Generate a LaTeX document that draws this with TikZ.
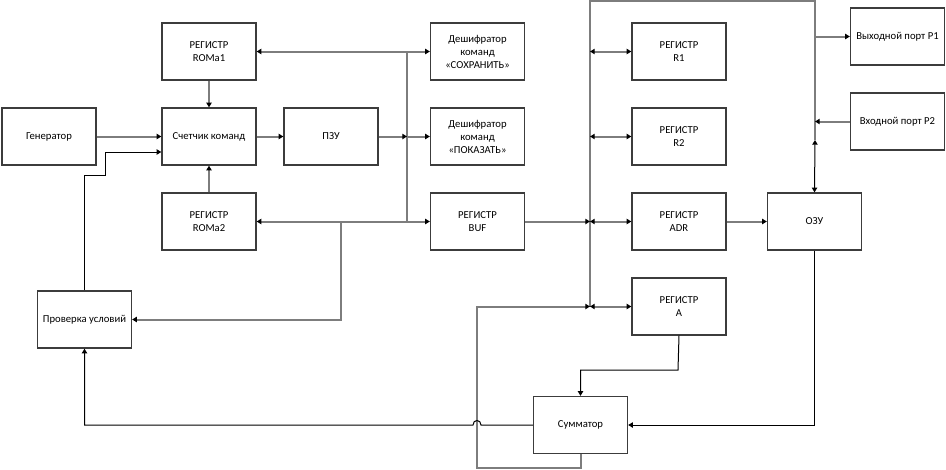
\documentclass[tikz,border=0pt]{standalone}
\usepackage{fontspec}
\setmainfont{Carlito}
\usetikzlibrary{arrows.meta}
\definecolor{busgray}{RGB}{125,125,125}
\definecolor{boxline}{RGB}{60,60,60}
\tikzset{
  blk/.style={draw=boxline, line width=1pt, fill=white, minimum width=70.5pt, minimum height=42.75pt, inner sep=1pt, align=center, font=\fontsize{8}{9.75}\selectfont},
  gline/.style={draw=busgray, line width=1.5pt},
  kline/.style={draw=black, line width=0.75pt},
  tip/.style={-{Triangle[length=3.5pt,width=4pt,color=black]}},
  dtip/.style={{Triangle[length=3.5pt,width=4pt,color=black]}-{Triangle[length=3.5pt,width=4pt,color=black]}}
}
\begin{document}
\begin{tikzpicture}[x=0.75pt,y=-0.75pt]
\useasboundingbox (0,0) rectangle (946,469);
% boxes
\node[blk] (gen) at (49,136.5) {Генератор};
\node[blk] (roma1) at (209,51.5) {РЕГИСТР\\ROMa1};
\node[blk] (cnt) at (209,136.5) {Счетчик команд};
\node[blk] (roma2) at (209,221.5) {РЕГИСТР\\ROMa2};
\node[blk] (pzu) at (331,136.5) {ПЗУ};
\node[blk] (dsave) at (477.5,51.5) {Дешифратор\\команд\\«СОХРАНИТЬ»};
\node[blk] (dshow) at (477.5,136.5) {Дешифратор\\команд\\«ПОКАЗАТЬ»};
\node[blk] (buf) at (477.5,221.5) {РЕГИСТР\\BUF};
\node[blk] (r1) at (679,51.5) {РЕГИСТР\\R1};
\node[blk] (r2) at (679,136.5) {РЕГИСТР\\R2};
\node[blk] (adr) at (679,221.5) {РЕГИСТР\\ADR};
\node[blk] (rega) at (679,306.5) {РЕГИСТР\\A};
\node[blk] (ozu) at (814.5,221.5) {ОЗУ};
\node[blk] (p1) at (897.5,36.5) {Выходной порт P1};
\node[blk] (p2) at (897.5,121.5) {Входной порт P2};
\node[blk] (sum) at (580.5,425) {Сумматор};
\node[blk] (chk) at (84.5,319.5) {Проверка условий};
% coordinates
\coordinate (b1t) at (407,51.5);
\coordinate (b1m) at (407,136.5);
\coordinate (b1b) at (407,221.5);
\coordinate (tap) at (341,221.5);
\coordinate (tapd) at (341,319.5);
\coordinate (b2top) at (590,1);
\coordinate (b2r1) at (590,51.5);
\coordinate (b2r2) at (590,136.5);
\coordinate (b2adr) at (590,221.5);
\coordinate (b2a) at (590,306.5);
\coordinate (rtop) at (815,1);
\coordinate (rp1) at (815,36.5);
\coordinate (rp2) at (815,121.5);
\coordinate (rmid) at (815,140);
\coordinate (loopl) at (477,306.5);
% left part
\draw[gline,tip] (gen.east) -- (cnt.west);
\draw[gline,tip] (roma1.south) -- (cnt.north);
\draw[gline,tip] (roma2.north) -- (cnt.south);
\draw[gline,tip] (cnt.east) -- (pzu.west);
\draw[gline] (b1t) -- (b1b);
\draw[gline,tip] (pzu.east) -- (b1m);
\draw[gline,tip] (b1m) -- (dshow.west);
\draw[gline,tip] (b1t) -- (roma1.east);
\draw[gline,tip] (b1t) -- (dsave.west);
\draw[gline,tip] (b1b) -- (roma2.east);
\draw[gline,tip] (b1b) -- (buf.west);
\draw[gline,tip] (tap) -- (tapd) -- (chk.east);
\draw[kline,tip] (chk.north) -- (84.5,175) -- (105,175) -- (105,152) -- (cnt.west |- 0,152);
% bus 2
\draw[gline] (b2a) -- (b2top) -- (rtop) -- (rmid);
\draw[gline,tip] (buf.east) -- (b2adr);
\draw[gline,dtip] (b2r1) -- (r1.west);
\draw[gline,dtip] (b2r2) -- (r2.west);
\draw[gline,dtip] (b2adr) -- (adr.west);
\draw[gline,dtip] (b2a) -- (rega.west);
\draw[gline,tip] (adr.east) -- (ozu.west);
\draw[gline,tip] (rp1) -- (p1.west);
\draw[gline,tip] (p2.west) -- (rp2);
\draw[kline,dtip] (rmid) -- (ozu.north);
% adder loop
\draw[gline,tip] (sum.south) -- (580.5,468) -- (477,468) -- (loopl) -- (b2a);
\draw[kline,tip] (rega.south) -- (678,370) -- (580.5,370) -- (sum.north);
\draw[kline,tip] (ozu.south) -- (814.5,425) -- (sum.east);
\draw[kline,tip] (sum.west) -- (481,425) .. controls (481,419) and (473,419) .. (473,425) -- (84.5,425) -- (chk.south);
\end{tikzpicture}
\end{document}
